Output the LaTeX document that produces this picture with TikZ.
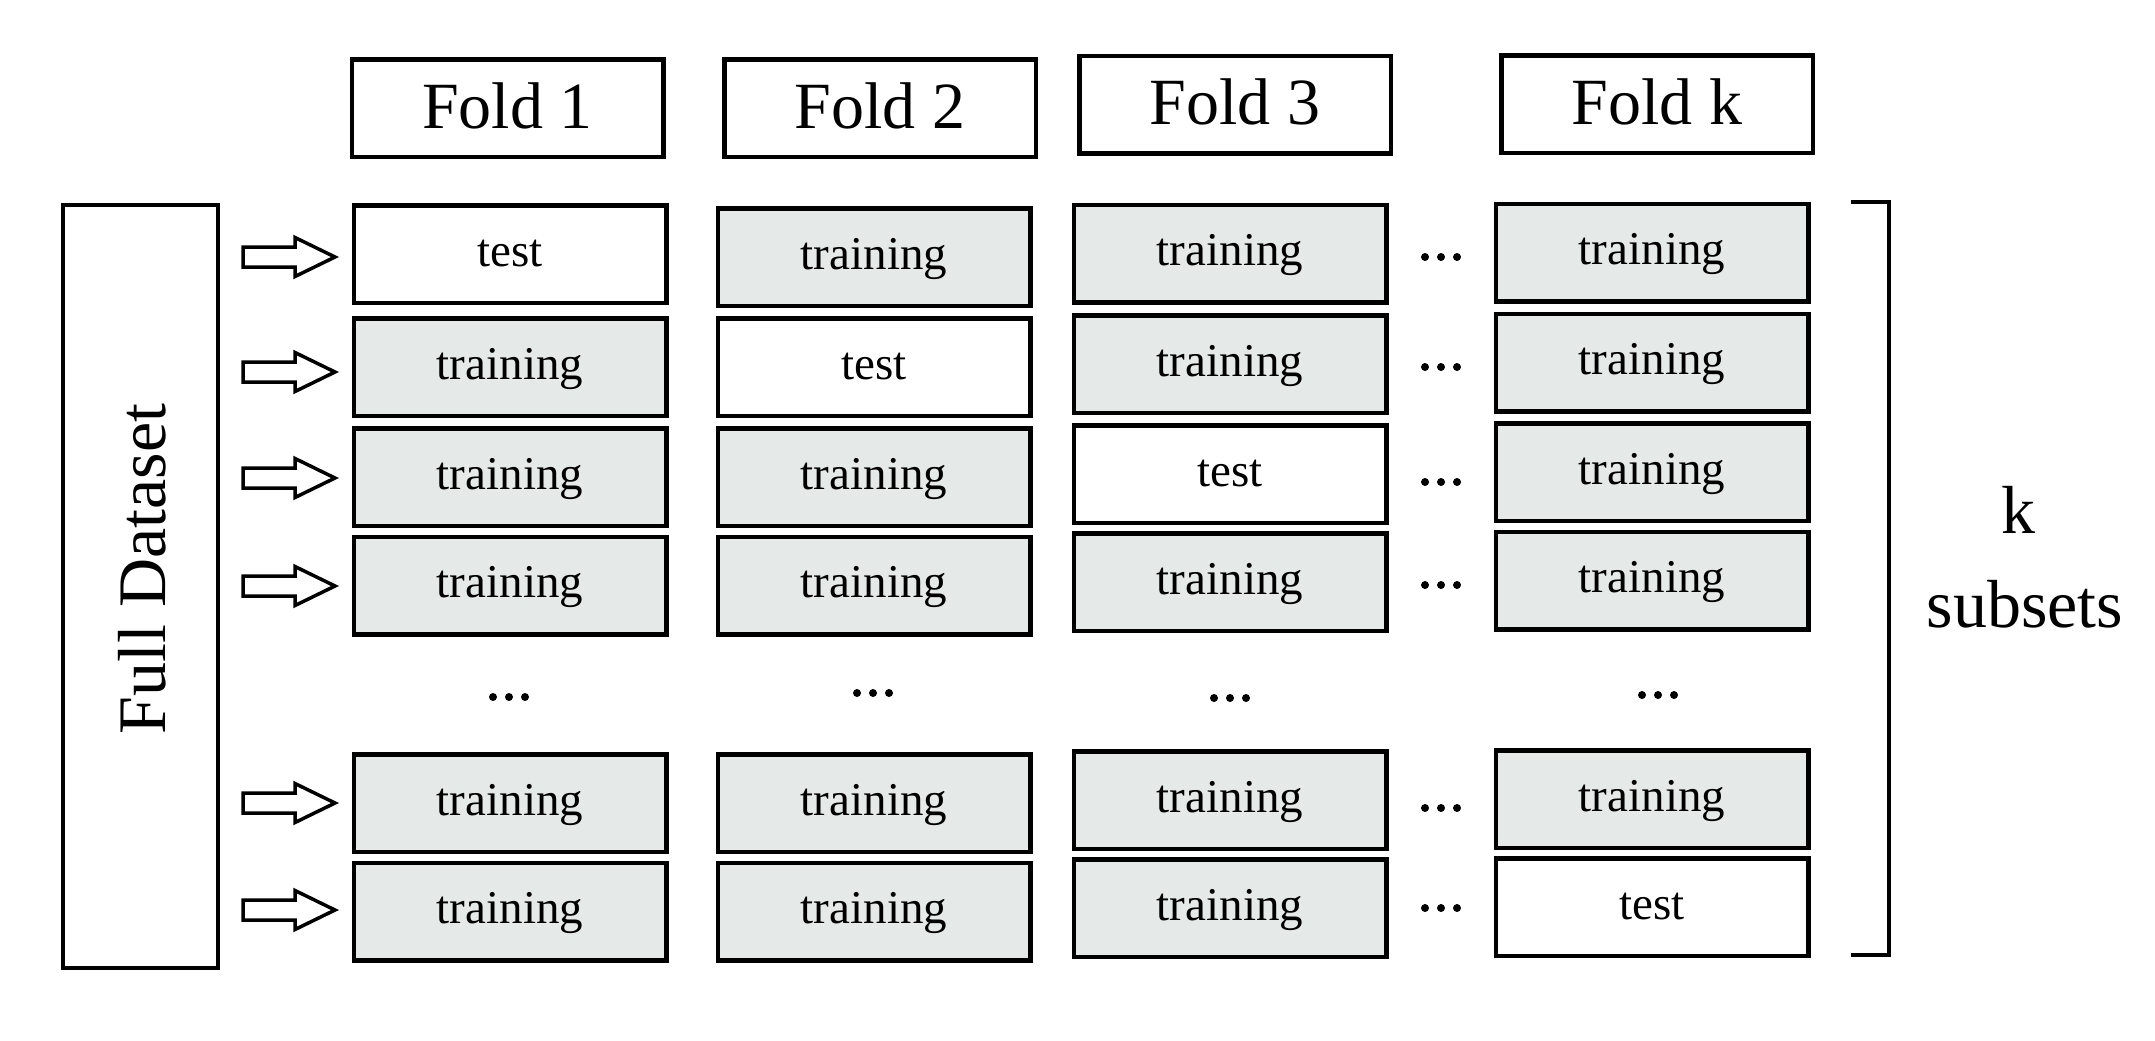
\documentclass[tikz,border=0pt]{standalone}
\usepackage{fontspec}
\setmainfont{Liberation Serif}
\definecolor{cellgray}{RGB}{229,233,231}
\tikzset{
  cellbox/.style={draw=black, line width=2.25pt, minimum width=156.25pt, minimum height=48.75pt,
    inner sep=0pt, text height=16pt, text depth=4pt, font=\fontsize{23.5}{26}\selectfont},
  trainbox/.style={cellbox, fill=cellgray},
  testbox/.style={cellbox, fill=white},
  foldbox/.style={draw=black, line width=2.25pt, minimum width=155.75pt, minimum height=48.75pt,
    inner sep=0pt, text height=24pt, text depth=4pt, font=\fontsize{33}{36}\selectfont},
  bigtext/.style={inner sep=0pt, font=\fontsize{34}{38}\selectfont},
  blockarrow/.style={draw=black, fill=white, line width=1.75pt, line join=miter},
  tridots/.pic={\fill (-16,0) circle (2pt) (0,0) circle (2pt) (16,0) circle (2pt);},
  blockarr/.pic={\draw[blockarrow] (0,-10) -- (52,-10) -- (52,-19.5) -- (92,0) -- (52,19.5) -- (52,10) -- (0,10) -- cycle;}
}
\begin{document}
\begin{tikzpicture}[x=0.5pt, y=-0.5pt]
\useasboundingbox (0,0) rectangle (2155,1040);

% fold headers
\node[foldbox] (f1) at (507.5,108) {Fold 1};
\node[foldbox] (f2) at (880,108) {Fold 2};
\node[foldbox] (f3) at (1235,104.5) {Fold 3};
\node[foldbox] (fk) at (1657,104) {Fold k};

% full dataset
\node[draw=black, line width=2pt, minimum width=77.5pt, minimum height=381.5pt, inner sep=0pt] (full) at (140.5,586.5) {};
\node[bigtext, rotate=90, anchor=base] (fulltext) at (165,569) {Full Dataset};

% column 1
\node[testbox]  (r1c1) at (510,254)   {test};
\node[trainbox] (r2c1) at (510,367)   {training};
\node[trainbox] (r3c1) at (510,477)   {training};
\node[trainbox] (r4c1) at (510,585.5) {training};
\node[trainbox] (r6c1) at (510,803)   {training};
\node[trainbox] (r7c1) at (510,911.5) {training};
% column 2
\node[trainbox] (r1c2) at (874,257)   {training};
\node[testbox]  (r2c2) at (874,367)   {test};
\node[trainbox] (r3c2) at (874,477)   {training};
\node[trainbox] (r4c2) at (874,585.5) {training};
\node[trainbox] (r6c2) at (874,803)   {training};
\node[trainbox] (r7c2) at (874,911.5) {training};
% column 3
\node[trainbox] (r1c3) at (1230,253.5) {training};
\node[trainbox] (r2c3) at (1230,364)   {training};
\node[testbox]  (r3c3) at (1230,474)   {test};
\node[trainbox] (r4c3) at (1230,582)   {training};
\node[trainbox] (r6c3) at (1230,800)   {training};
\node[trainbox] (r7c3) at (1230,908)   {training};
% column k
\node[trainbox] (r1ck) at (1652,252.5) {training};
\node[trainbox] (r2ck) at (1652,362.5) {training};
\node[trainbox] (r3ck) at (1652,472)   {training};
\node[trainbox] (r4ck) at (1652,580.5) {training};
\node[trainbox] (r6ck) at (1652,799)   {training};
\node[testbox]  (r7ck) at (1652,907)   {test};

% block arrows
\foreach \yy in {257,372,478,586,803,910}{
  \pic at (243,\yy) {blockarr};
}

% horizontal dots between fold 3 and fold k
\foreach \yy in {257,367,482,585,808,908}{
  \pic at (1441,\yy) {tridots};
}
% vertical gap dots
\pic at (509,697) {tridots};
\pic at (873,693) {tridots};
\pic at (1230,698) {tridots};
\pic at (1658,695) {tridots};

% bracket
\draw[line width=2pt, line cap=rect] (1853,202) -- (1889,202) -- (1889,955) -- (1853,955);

% k subsets
\node[bigtext, anchor=base] (klabel) at (2018,533) {k};
\node[bigtext, anchor=base] (subsets) at (2025,627) {subsets};
\end{tikzpicture}
\end{document}
